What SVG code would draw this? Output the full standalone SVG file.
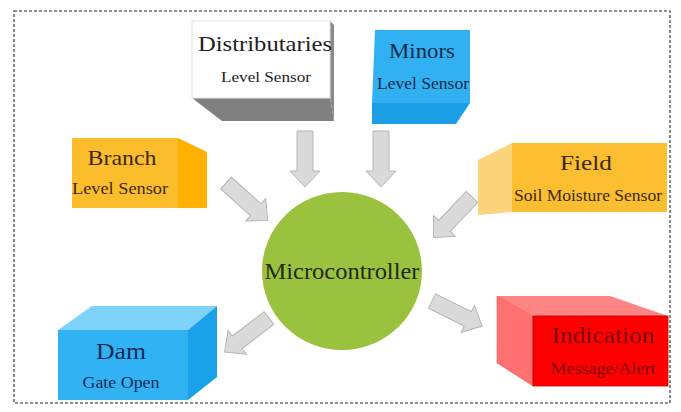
<svg xmlns="http://www.w3.org/2000/svg" width="681" height="412" viewBox="0 0 681 412">
<defs>
<style>
.t{font-family:"Liberation Serif","Times New Roman",serif;text-anchor:middle}
.arr{fill:#dadada;stroke:#b5b5b5;stroke-width:1}
</style>
<path id="blk" d="M0,-8 L40,-8 L40,-15 L56,0 L40,15 L40,8 L0,8 Z"/>
</defs>
<rect x="0" y="0" width="681" height="412" fill="#ffffff"/>
<rect x="14" y="11" width="656" height="392" fill="none" stroke="#62725f" stroke-width="1.6" stroke-dasharray="3,2"/>

<g id="connectors">
<use href="#blk" class="arr" transform="translate(305,131) rotate(90)"/>
<use href="#blk" class="arr" transform="translate(381,131) rotate(90)"/>
<use href="#blk" class="arr" transform="translate(226,183) rotate(42)"/>
<use href="#blk" class="arr" transform="translate(472,197) rotate(133.6)"/>
<use href="#blk" class="arr" transform="translate(269,318) rotate(142.5)"/>
<use href="#blk" class="arr" transform="translate(432,301) rotate(26.6)"/>
</g>

<g id="distributaries">
<polygon points="192,98 330,98 334,121 222,121" fill="#808080"/>
<polygon points="330,21 334,25 334,121 330,98" fill="#8a8a8a"/>
<rect x="192" y="21" width="138" height="77" fill="#ffffff" stroke="#e4e4e4" stroke-width="1"/>
<text class="t" x="265" y="51" font-size="22" fill="#222222" textLength="134" lengthAdjust="spacingAndGlyphs">Distributaries</text>
<text class="t" x="266" y="82" font-size="15" fill="#222222" textLength="90" lengthAdjust="spacingAndGlyphs">Level Sensor</text>
</g>

<g id="minors">
<polygon points="372,103 470,103 456,124 372,124" fill="#1c9fe6"/>
<polygon points="375,30 470,30 470,103 372,103" fill="#31b1f2"/>
<text class="t" x="422" y="58" font-size="22" fill="#142a4a" textLength="66" lengthAdjust="spacingAndGlyphs">Minors</text>
<text class="t" x="423" y="89" font-size="16" fill="#142a4a" textLength="92" lengthAdjust="spacingAndGlyphs">Level Sensor</text>
</g>

<g id="branch">
<polygon points="178,138 207,152 207,208 178,208" fill="#ffb000"/>
<rect x="72" y="138" width="106" height="70" fill="#fbbd2c"/>
<text class="t" x="122" y="165" font-size="22" fill="#3b2a0e" textLength="69" lengthAdjust="spacingAndGlyphs">Branch</text>
<text class="t" x="120" y="194" font-size="16" fill="#3b2a0e" textLength="96" lengthAdjust="spacingAndGlyphs">Level Sensor</text>
</g>

<g id="field">
<polygon points="478,160 512,143 512,212 478,215" fill="#fdd47c"/>
<rect x="512" y="143" width="155" height="69" fill="#fbbe30"/>
<text class="t" x="586" y="170" font-size="22" fill="#3b2a0e" textLength="52" lengthAdjust="spacingAndGlyphs">Field</text>
<text class="t" x="588" y="201" font-size="16" fill="#3b2a0e" textLength="148" lengthAdjust="spacingAndGlyphs">Soil Moisture Sensor</text>
</g>

<g id="microcontroller">
<ellipse cx="342" cy="271" rx="80" ry="79" fill="#9bc23e"/>
<text class="t" x="342" y="279" font-size="23" fill="#1e2a12" textLength="155" lengthAdjust="spacingAndGlyphs">Microcontroller</text>
</g>

<g id="dam">
<polygon points="58,330 92,306 217,306 188,330" fill="#7fd3fb"/>
<polygon points="188,330 217,306 217,377 188,400" fill="#19a1e9"/>
<rect x="58" y="330" width="130" height="70" fill="#30b2f3"/>
<text class="t" x="121" y="359" font-size="24" fill="#142a5a" textLength="50" lengthAdjust="spacingAndGlyphs">Dam</text>
<text class="t" x="121" y="388" font-size="16" fill="#142a5a" textLength="77" lengthAdjust="spacingAndGlyphs">Gate Open</text>
</g>

<g id="indication">
<polygon points="497,296 610,296 668,316 533,316" fill="#ff8585"/>
<polygon points="497,296 533,316 533,386 497,363" fill="#ff7070" stroke="#e05050" stroke-width="0.5"/>
<rect x="533" y="316" width="135" height="70" fill="#ff0000" stroke="#c40000" stroke-width="0.8"/>
<text class="t" x="603" y="343" font-size="24" fill="#7a0a0a" textLength="103" lengthAdjust="spacingAndGlyphs">Indication</text>
<text class="t" x="603" y="374" font-size="16" fill="#7a0a0a" textLength="105" lengthAdjust="spacingAndGlyphs">Message/Alert</text>
</g>
</svg>
